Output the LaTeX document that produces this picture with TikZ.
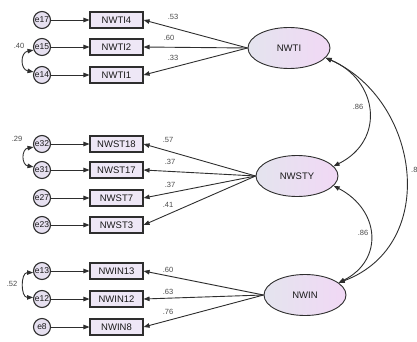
\documentclass[tikz,border=0pt]{standalone}
\usepackage{fontspec}
\setmainfont{Liberation Sans}
\usetikzlibrary{arrows.meta,shapes.geometric}
\definecolor{boxfill}{HTML}{EEE7F6}
\definecolor{errfill}{HTML}{E6E0F0}
\definecolor{ellL}{HTML}{E4E4EE}
\definecolor{ellR}{HTML}{F1D8F5}
\definecolor{lineC}{HTML}{2E2E2E}
\definecolor{numC}{HTML}{4A4A4A}
\tikzset{
  x=1pt, y=-1pt,
  tip/.style={-{Triangle[length=6pt,width=4.5pt]}},
  dtip/.style={{Triangle[length=6pt,width=4.5pt]}-{Triangle[length=6pt,width=4.5pt]}},
  obs/.style={draw=lineC, line width=1.1pt, fill=boxfill, minimum width=53pt, minimum height=16pt, inner sep=0pt, font=\fontsize{9.5}{10}\selectfont, text=black!90},
  err/.style={circle, draw=lineC, line width=1.1pt, fill=errfill, minimum size=17pt, inner sep=0pt, font=\fontsize{8.5}{9}\selectfont, text=black!90},
  lat/.style={ellipse, draw=lineC, line width=0.9pt, left color=ellL, right color=ellR, minimum width=82pt, minimum height=41pt, inner sep=0pt, font=\fontsize{9.5}{10}\selectfont, text=black!90},
  num/.style={font=\fontsize{7.5}{8}\selectfont, text=numC, inner sep=0pt},
  conn/.style={draw=lineC, line width=0.9pt}
}
\begin{document}
\begin{tikzpicture}
\useasboundingbox (0,0) rectangle (417,342);
% latent
\node[lat] (NWTI) at (289,48) {NWTI};
\node[lat] (NWSTY) at (297,176) {NWSTY};
\node[lat] (NWIN) at (305,295) {NWIN};
% observed
\node[obs] (NWTI4) at (116.5,20) {NWTI4};
\node[obs] (NWTI2) at (116.5,47) {NWTI2};
\node[obs] (NWTI1) at (116.5,75) {NWTI1};
\node[obs] (NWST18) at (116.5,144) {NWST18};
\node[obs] (NWST17) at (116.5,170) {NWST17};
\node[obs] (NWST7) at (116.5,198) {NWST7};
\node[obs] (NWST3) at (116.5,225) {NWST3};
\node[obs] (NWIN13) at (116.5,271) {NWIN13};
\node[obs] (NWIN12) at (116.5,299) {NWIN12};
\node[obs] (NWIN8) at (116.5,327) {NWIN8};
% errors
\node[err] (e17) at (42,20) {e17};
\node[err] (e15) at (42,47) {e15};
\node[err] (e14) at (42,75) {e14};
\node[err] (e32) at (42,144) {e32};
\node[err] (e31) at (42,170) {e31};
\node[err] (e27) at (42,198) {e27};
\node[err] (e23) at (42,225) {e23};
\node[err] (e13) at (42,271) {e13};
\node[err] (e12) at (42,299) {e12};
\node[err] (e8) at (42,327) {e8};
% error arrows
\foreach \e/\o in {e17/NWTI4,e15/NWTI2,e14/NWTI1,e32/NWST18,e31/NWST17,e27/NWST7,e23/NWST3,e13/NWIN13,e12/NWIN12,e8/NWIN8}
  \draw[conn,tip] (\e) -- (\o);
% loadings
\foreach \o in {NWTI4,NWTI2,NWTI1} \draw[conn,tip] (NWTI.west) -- (\o.east);
\foreach \o in {NWST18,NWST17,NWST7,NWST3} \draw[conn,tip] (NWSTY.west) -- (\o.east);
\foreach \o in {NWIN13,NWIN12,NWIN8} \draw[conn,tip] (NWIN.west) -- (\o.east);
% loading labels
\node[num] at (173,17) {.53};
\node[num] at (169,38) {.60};
\node[num] at (173,58) {.33};
\node[num] at (168,140) {.57};
\node[num] at (170,162) {.37};
\node[num] at (170,185) {.37};
\node[num] at (168,205) {.41};
\node[num] at (168,270) {.60};
\node[num] at (168,292) {.63};
\node[num] at (168,312) {.76};
% error covariances
\draw[conn,dtip] (e15.200) to[out=190,in=170,looseness=1.6] (e14.160);
\draw[conn,dtip] (e32.200) to[out=190,in=170,looseness=1.6] (e31.160);
\draw[conn,dtip] (e13.190) to[out=180,in=180,looseness=1.3] (e12.170);
\node[num] at (19,46) {.40};
\node[num] at (17,139) {.29};
\node[num] at (12,284) {.52};
% factor covariances
\draw[conn,dtip] (NWTI.-15) .. controls (378,80) and (386,140) .. (NWSTY.15);
\draw[conn,dtip] (NWSTY.-15) .. controls (380,210) and (384,260) .. (NWIN.20);
\draw[conn,dtip] (NWTI.-15) .. controls (420,100) and (440,245) .. (NWIN.20);
\node[num] at (358,107) {.86};
\node[num] at (363,233) {.86};
\node[num,anchor=west] at (411,170) {.8};
\end{tikzpicture}
\end{document}
